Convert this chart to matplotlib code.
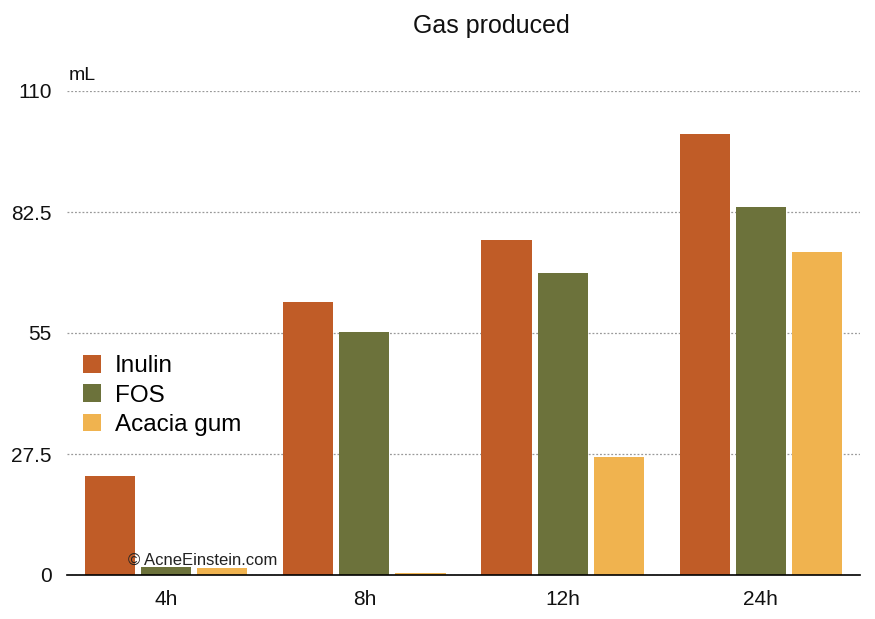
import matplotlib
matplotlib.use("Agg")
import matplotlib.pyplot as plt
import numpy as np

categories = ["4h", "8h", "12h", "24h"]
series_names = ["Inulin", "FOS", "Acacia gum"]
inulin = [22.5, 62.0, 76.1, 100.2]
fos = [1.8, 55.2, 68.6, 83.6]
acacia = [1.6, 0.5, 26.8, 73.4]
yticks = [0, 27.5, 55, 82.5, 110]
ytick_labels = ["0", "27.5", "55", "82.5", "110"]
colors = ["#C05C27", "#6C723B", "#F0B34F"]

plt.rcParams['font.family'] = ['Liberation Sans', 'DejaVu Sans']

fig = plt.figure(figsize=(8.75, 6.19), dpi=100)
ax = fig.add_axes([67/875, 44/619, 793/875, 484/619])

x = np.arange(len(categories))
step = 0.283
width = 0.253
for i, (vals, name, c) in enumerate(zip([inulin, fos, acacia], series_names, colors)):
    ax.bar(x + (i - 1) * step, vals, width=width, color=c, label=name, zorder=3)

ax.set_xlim(-0.5, 3.5)
ax.set_ylim(0, 110)
ax.set_yticks(yticks)
ax.set_yticklabels(ytick_labels)
ax.set_xticks(x)
ax.set_xticklabels(categories)
ax.yaxis.grid(True, linestyle=(0, (1.5, 1.5)), color="#999999", linewidth=0.9, zorder=0)
ax.set_axisbelow(True)
for s in ["left", "right", "top"]:
    ax.spines[s].set_visible(False)
ax.spines["bottom"].set_color("black")
ax.spines["bottom"].set_linewidth(1.2)
ax.spines["bottom"].set_zorder(4)
ax.tick_params(axis="y", length=0, pad=11, labelsize=15, colors="#111111")
ax.tick_params(axis="x", length=0, pad=11, labelsize=15, colors="#111111")

fig.text(69/875, 1 - 76/619, "mL", fontsize=14, ha="left", va="center", color="#111111")
fig.text(491/875, 1 - 26.5/619, "Gas produced", ha="center", va="center", fontsize=18, color="#111111")
fig.text(128/875, 1 - 560/619, "© AcneEinstein.com", ha="left", va="center", fontsize=12.0, color="#222222", zorder=10)

leg = ax.legend(loc="center left", bbox_to_anchor=(0.02, 0.371), frameon=False, fontsize=17.5,
                handlelength=0.75, handleheight=0.75, handletextpad=0.58, labelspacing=0.29,
                borderaxespad=0, borderpad=0)

fig.savefig("out.png", dpi=100)
